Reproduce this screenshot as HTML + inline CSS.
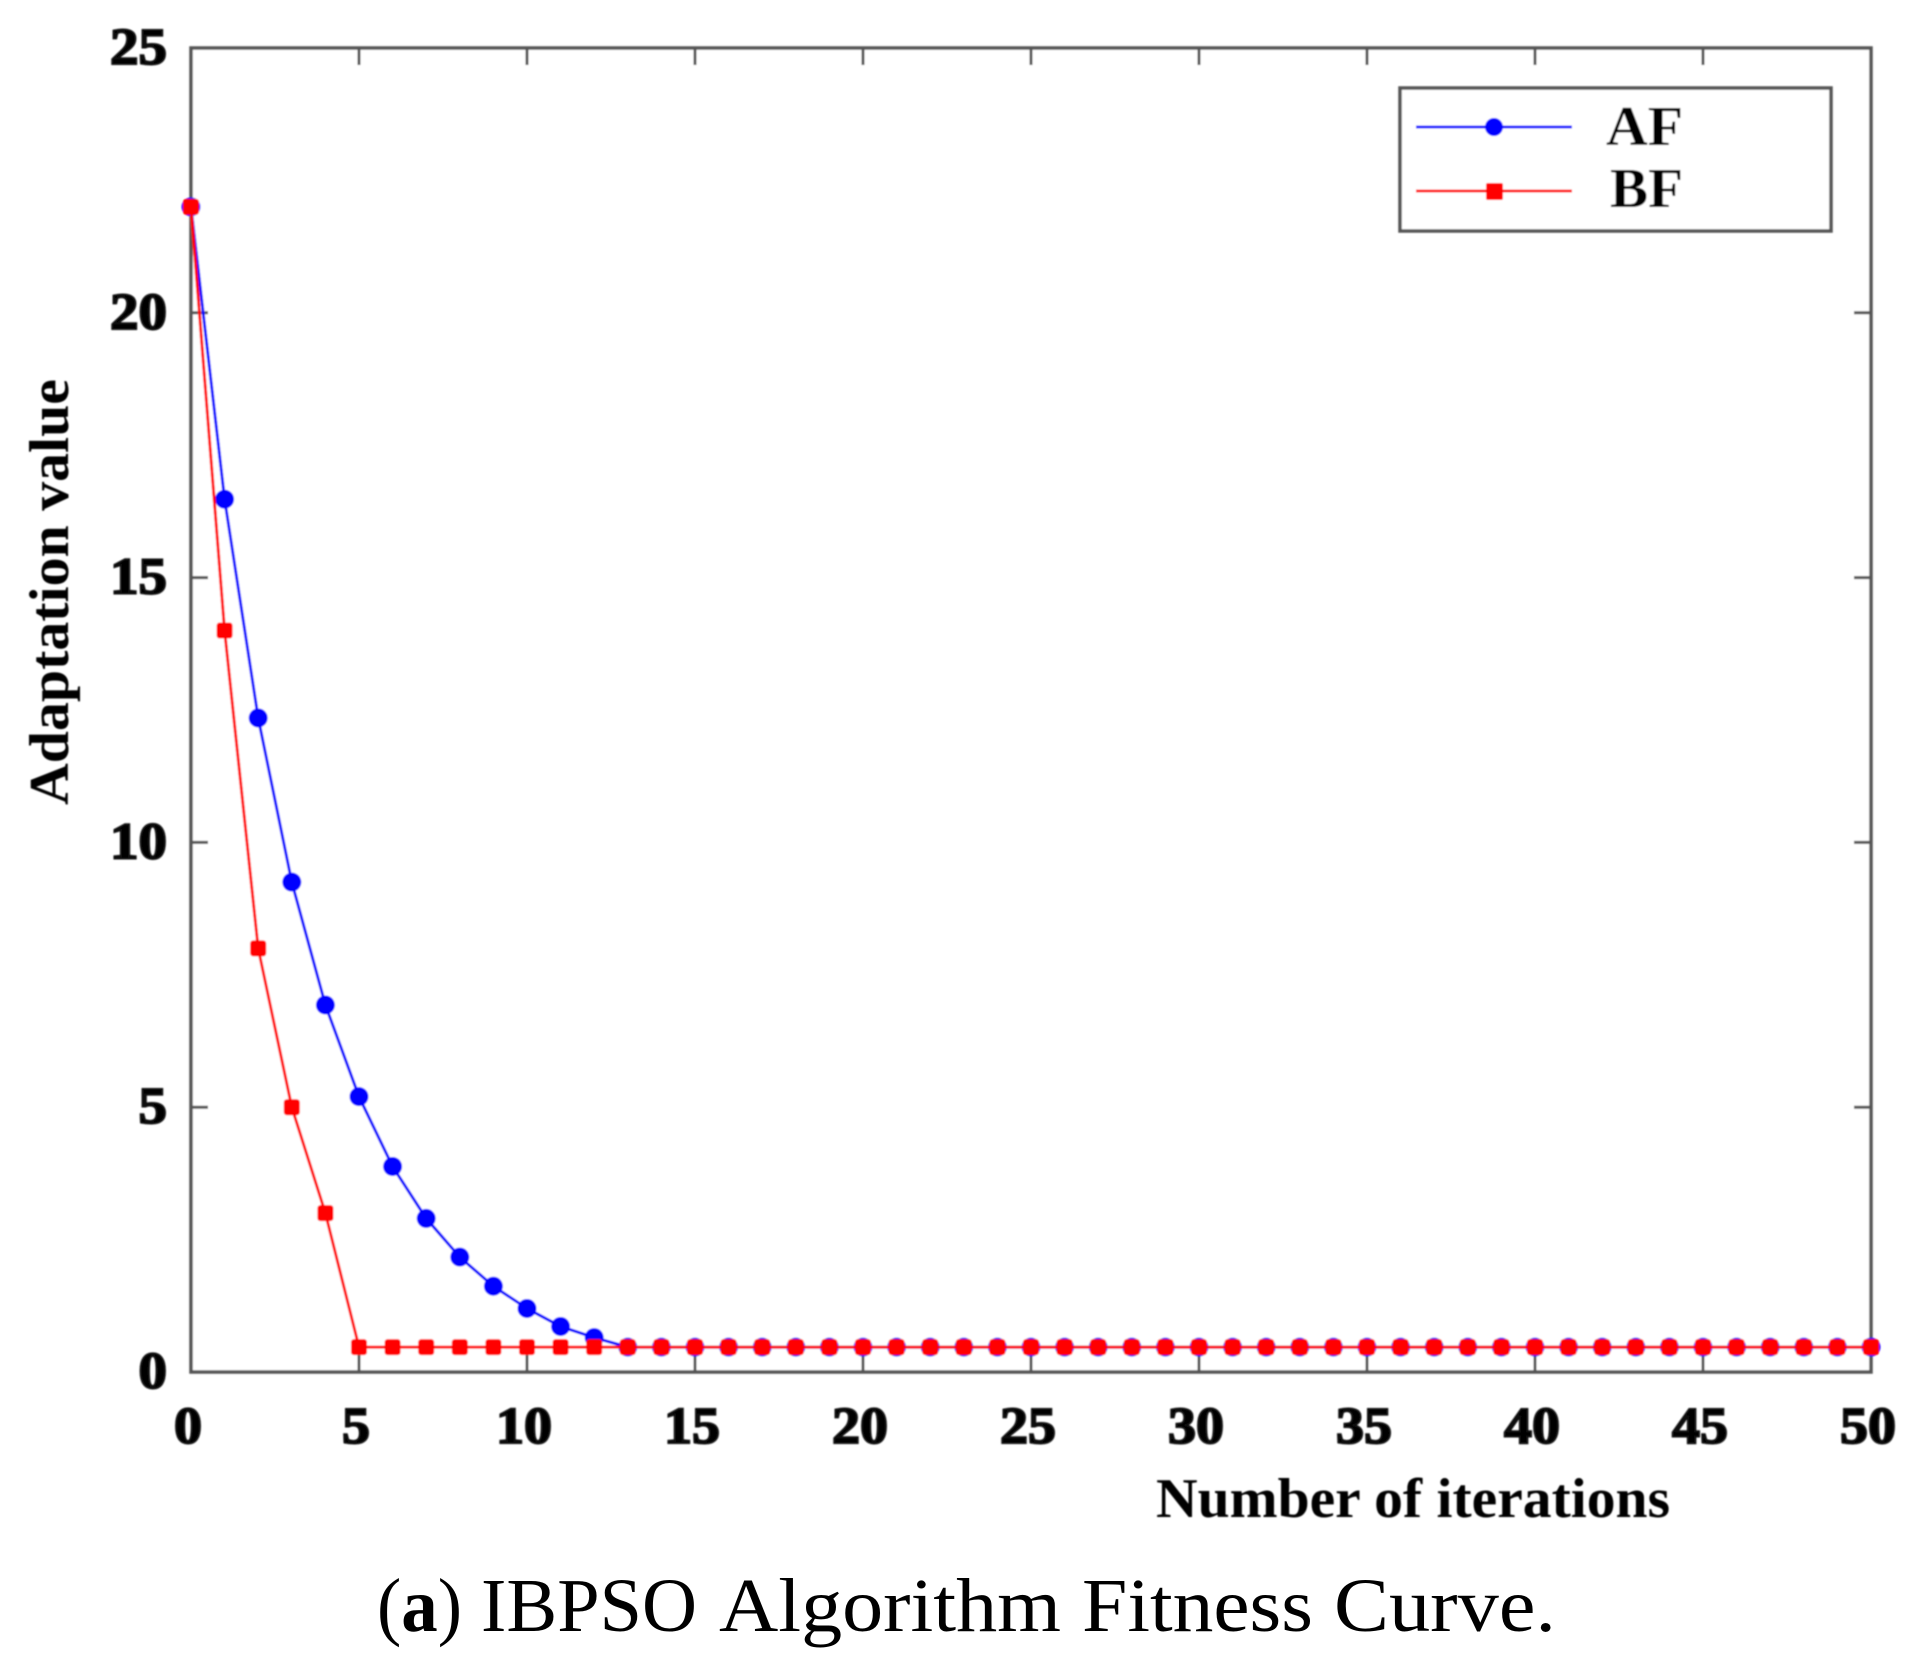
<!DOCTYPE html>
<html lang="en">
<head>
<meta charset="utf-8">
<title>IBPSO Algorithm Fitness Curve</title>
<style>
html,body{margin:0;padding:0;background:#fff;width:1928px;height:1673px;overflow:hidden}
svg{display:block}
text{font-family:"Liberation Serif",serif;fill:#000}
.tick{font-weight:700;font-size:52px;stroke:#111;stroke-width:2px}
.title{font-weight:700;font-size:56px}
.cap{font-size:76px}
</style>
</head>
<body>
<svg id="chart" xmlns="http://www.w3.org/2000/svg" width="1928" height="1673" viewBox="0 0 1928 1673">
<defs><filter id="soft" x="-2%" y="-2%" width="104%" height="104%"><feGaussianBlur stdDeviation="0.9"/></filter></defs>
<g id="plot" filter="url(#soft)"></g>
<g id="labels" filter="url(#soft)"></g>
<g filter="url(#soft)">
<rect x="1400" y="88" width="431" height="143" fill="#fff" stroke="#555" stroke-width="3.5"/>
<line x1="1416" x2="1572" y1="127" y2="127" stroke="#0000ff" stroke-width="3"/>
<circle cx="1494" cy="127" r="9" fill="#0000ff"/>
<line x1="1416" x2="1572" y1="191" y2="191" stroke="#ff0000" stroke-width="3"/>
<rect x="1486" y="183" width="17" height="17" rx="2" fill="#ff0000"/>
<text class="title" x="1606" y="145" textLength="77" lengthAdjust="spacingAndGlyphs">AF</text>
<text class="title" x="1610" y="207" textLength="73" lengthAdjust="spacingAndGlyphs">BF</text>
</g>
<text class="title" x="1156" y="1517" textLength="514" lengthAdjust="spacingAndGlyphs" filter="url(#soft)">Number of iterations</text>
<text class="title" transform="translate(68,805) rotate(-90)" x="0" y="0" textLength="426" lengthAdjust="spacingAndGlyphs" filter="url(#soft)">Adaptation value</text>
<g>
<text class="cap" x="377" y="1631" textLength="85" lengthAdjust="spacingAndGlyphs">(<tspan font-weight="700">a</tspan>)</text>
<text class="cap" x="481" y="1631" textLength="216" lengthAdjust="spacingAndGlyphs">IBPSO</text>
<text class="cap" x="719" y="1631" textLength="342" lengthAdjust="spacingAndGlyphs">Algorithm</text>
<text class="cap" x="1082" y="1631" textLength="231" lengthAdjust="spacingAndGlyphs">Fitness</text>
<text class="cap" x="1334" y="1631" textLength="222" lengthAdjust="spacingAndGlyphs">Curve.</text>
</g>
</svg>
<script>
const iterations = [0,1,2,3,4,5,6,7,8,9,10,11,12,13,14,15,16,17,18,19,20,21,22,23,24,25,26,27,28,29,30,31,32,33,34,35,36,37,38,39,40,41,42,43,44,45,46,47,48,49,50];
const afValues = [22,16.48,12.35,9.25,6.93,5.2,3.88,2.9,2.17,1.62,1.2,0.86,0.65,0.47,0.47,0.47,0.47,0.47,0.47,0.47,0.47,0.47,0.47,0.47,0.47,0.47,0.47,0.47,0.47,0.47,0.47,0.47,0.47,0.47,0.47,0.47,0.47,0.47,0.47,0.47,0.47,0.47,0.47,0.47,0.47,0.47,0.47,0.47,0.47,0.47,0.47];
const bfValues = [22,14,8,5,3,0.47,0.47,0.47,0.47,0.47,0.47,0.47,0.47,0.47,0.47,0.47,0.47,0.47,0.47,0.47,0.47,0.47,0.47,0.47,0.47,0.47,0.47,0.47,0.47,0.47,0.47,0.47,0.47,0.47,0.47,0.47,0.47,0.47,0.47,0.47,0.47,0.47,0.47,0.47,0.47,0.47,0.47,0.47,0.47,0.47,0.47];
const xTickLabels = [0,5,10,15,20,25,30,35,40,45,50];
const yTickLabels = [0,5,10,15,20,25];

const NS = 'http://www.w3.org/2000/svg';
const plot = document.getElementById('plot');
const labels = document.getElementById('labels');
const L = 191, R = 1871, T = 48, B = 1372;
const xScale = v => L + (v - 0) / 50 * (R - L);
const yScale = v => B - (v - 0) / 25 * (B - T);
function make(tag, attrs, parent){
  const el = document.createElementNS(NS, tag);
  for (const k in attrs) el.setAttribute(k, attrs[k]);
  parent.appendChild(el);
  return el;
}
const axisBox = make('rect', {x:L, y:T, width:R-L, height:B-T, fill:'#fff', stroke:'#555', 'stroke-width':3.5}, plot);


const tickLen = 17;
xTickLabels.forEach(v => {
  const x = xScale(v);
  const b = make('line', {x1:x, x2:x, y1:B, y2:B-tickLen, stroke:'#555', 'stroke-width':3}, plot);
  
  
  const t = make('line', {x1:x, x2:x, y1:T, y2:T+tickLen, stroke:'#555', 'stroke-width':3}, plot);
  
  
  const txt = make('text', {x:x-3, y:1443, 'text-anchor':'middle', class:'tick', textLength:String(v).length*28, lengthAdjust:'spacingAndGlyphs'}, labels);
  
  
  txt.textContent = v;
});
yTickLabels.forEach(v => {
  const y = yScale(v);
  const l = make('line', {x1:L, x2:L+tickLen, y1:y, y2:y, stroke:'#555', 'stroke-width':3}, plot);
  
  
  const r = make('line', {x1:R, x2:R-tickLen, y1:y, y2:y, stroke:'#555', 'stroke-width':3}, plot);
  
  
  const txt = make('text', {x:167, y:y+16, 'text-anchor':'end', class:'tick', textLength:String(v).length*28.5, lengthAdjust:'spacingAndGlyphs'}, labels);
  
  
  txt.textContent = v;
});
function pointsOf(values){
  return values.map((v, i) => xScale(iterations[i]) + ',' + yScale(v)).join(' ');
}
const afLine = make('polyline', {points:pointsOf(afValues), fill:'none', stroke:'#0000ff', 'stroke-width':3}, plot);


afValues.forEach((v, i) => {
  const c = make('circle', {cx:xScale(iterations[i]), cy:yScale(v), r:9.5, fill:'#0000ff'}, plot);
  
  
});
const bfLine = make('polyline', {points:pointsOf(bfValues), fill:'none', stroke:'#ff0000', 'stroke-width':3}, plot);


bfValues.forEach((v, i) => {
  const s = make('rect', {x:xScale(iterations[i])-8, y:yScale(v)-8, width:16, height:16, rx:3, fill:'#ff0000'}, plot);
  
  
});
</script>
</body>
</html>
